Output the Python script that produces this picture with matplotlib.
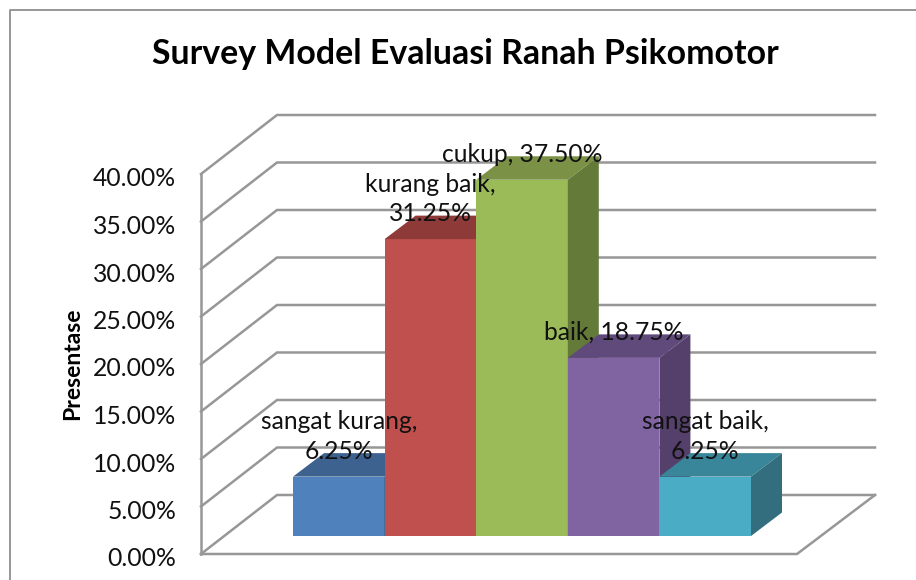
import matplotlib
matplotlib.use('Agg')
import matplotlib.pyplot as plt
from matplotlib.lines import Line2D
from matplotlib.transforms import ScaledTranslation

plt.rcParams['font.family'] = ['Lato', 'DejaVu Sans']

#Datos
categorias = ['sangat kurang', 'kurang baik', 'cukup', 'baik', 'sangat baik']
valores = [6.25, 31.25, 37.50, 18.75, 6.25]
etiquetas = ['sangat kurang,\n6.25%', 'kurang baik,\n31.25%', 'cukup, 37.50%', 'baik, 18.75%', 'sangat baik,\n6.25%']
ticks = [0, 5, 10, 15, 20, 25, 30, 35, 40]
tick_labels = ['0.00%', '5.00%', '10.00%', '15.00%', '20.00%', '25.00%', '30.00%', '35.00%', '40.00%']

#Colores de cada barra: frente, arriba, lado
frente = ['#4F81BD', '#C0504D', '#9BBB59', '#8064A2', '#4BACC6']
arriba = ['#3E628F', '#8E3A38', '#7A9146', '#5F4A7B', '#39859A']
lado = ['#335070', '#7A3230', '#647A38', '#54406B', '#336E7F']

W, H = 916, 580
px_x = 91.6   #pixeles por categoria
px_y = 9.5    #pixeles por punto porcentual
gris = '#979797'

fig = plt.figure(figsize=(W/100, H/100), dpi=100)
ax = fig.add_axes([201/W, 1-554/H, (875-201)/W, (554-115)/H])
ax.set_xlim((201-293)/px_x, (875-293)/px_x)
ax.set_ylim(0, (554-115)/px_y)

#Profundidad de la pared y de las barras
pared_x, pared_y = 76/px_x, 59/px_y
prof_x, prof_y = 31/px_x, 23.5/px_y
base = 18/px_y
x0 = ax.get_xlim()[0]
x1 = ax.get_xlim()[1]

#Ejes
for s in ['top', 'right', 'bottom']:
    ax.spines[s].set_visible(False)
ax.spines['left'].set_bounds(0, 40)
ax.spines['left'].set_color(gris)
ax.spines['left'].set_linewidth(1.8)
ax.set_xticks([])
ax.set_yticks(ticks)
ax.set_yticklabels(tick_labels, fontsize=17.8, color='#111111')
ax.tick_params(axis='y', length=0, pad=18)
bajar = ScaledTranslation(0, -3/100, fig.dpi_scale_trans)
for t in ax.get_yticklabels():
    t.set_transform(t.get_transform()+bajar)

#Rejilla
for v in ticks:
    ax.plot([x0, x0+pared_x, x1], [v, v+pared_y, v+pared_y], color=gris, lw=1.8,
            clip_on=False, solid_joinstyle='miter', zorder=1)

#Piso
piso_der = x0+(797-201)/px_x
ax.plot([x0, piso_der, x1], [0, 0, pared_y], color=gris, lw=1.8, clip_on=False, zorder=1)

#Barras
for i, v in enumerate(valores):
    ax.bar(i, v, width=1, bottom=base, align='edge', color=frente[i], zorder=3+i)
    tope = base+v
    ax.fill([i, i+1, i+1+prof_x, i+prof_x], [tope, tope, tope+prof_y, tope+prof_y],
            color=arriba[i], lw=0, zorder=3+i)
    ax.fill([i+1, i+1+prof_x, i+1+prof_x, i+1], [base, base+prof_y, tope+prof_y, tope],
            color=lado[i], lw=0, zorder=3+i)

#Etiquetas de datos
for i, v in enumerate(valores):
    ax.annotate(etiquetas[i], (i+0.5, base+v), xytext=(0, 10), textcoords='offset points',
                ha='center', va='bottom', fontsize=17.7, color='#111111',
                linespacing=1.35, zorder=20, annotation_clip=False)

#Titulos
fig.text(465/W, 1-54/H, 'Survey Model Evaluasi Ranah Psikomotor', ha='center', va='center',
         fontsize=24.4, fontweight='bold', color='black')
fig.text(73/W, 1-364/H, 'Presentase', rotation=90, ha='center', va='center',
         fontsize=16.5, fontweight='bold', color='black')

#Borde del grafico
fig.add_artist(Line2D([10/W, 10/W, 1], [0, 1-10/H, 1-10/H], color=gris, lw=1.4))

fig.savefig('out.png', dpi=100)
